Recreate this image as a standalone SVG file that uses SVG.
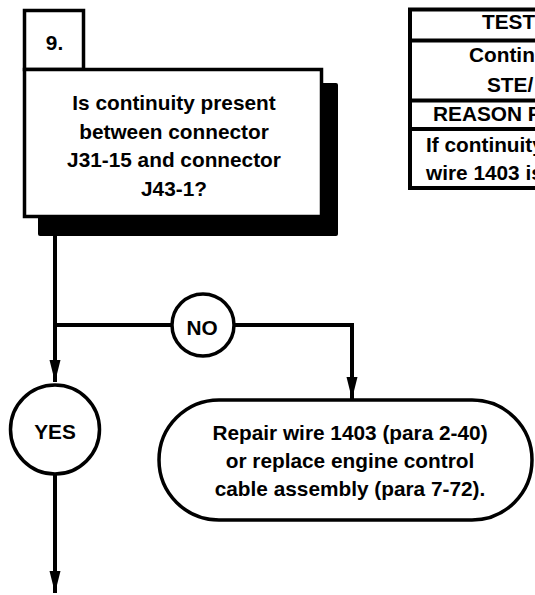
<svg xmlns="http://www.w3.org/2000/svg" width="535" height="595" viewBox="0 0 535 595">
<style>
text{font-family:"Liberation Sans",Arial,Helvetica,sans-serif;font-weight:bold;font-size:20.8px;fill:#000}
.c{text-anchor:middle}
.box{fill:#fff;stroke:#000;stroke-width:3.5}
.line{fill:none;stroke:#000;stroke-width:4}
.tl{stroke:#000;stroke-width:4}
</style>
<defs>
<marker id="arr" markerUnits="userSpaceOnUse" markerWidth="23" markerHeight="12" refX="22" refY="5.5" orient="auto">
<path d="M0,0 L22,5.5 L0,11 z" fill="#000"/>
</marker>
</defs>
<g id="connectors">
<path class="line" d="M55,236 V382" marker-end="url(#arr)"/>
<path class="line" d="M55,325 H172"/>
<path class="line" d="M234,325 H352 V399" marker-end="url(#arr)"/>
<path class="line" d="M55,474 V593" marker-end="url(#arr)"/>
</g>
<g id="step9">
<rect x="38" y="83" width="300" height="153" rx="2" fill="#000"/>
<rect class="box" x="24.5" y="10.5" width="59" height="59"/>
<rect class="box" x="24.5" y="69.5" width="297" height="147"/>
<text class="c" x="54.5" y="50">9.</text>
<text class="c" x="174" y="110">Is continuity present</text>
<text class="c" x="174" y="138.5">between connector</text>
<text class="c" x="174" y="167">J31-15 and connector</text>
<text class="c" x="174" y="195.5">J43-1?</text>
</g>
<g id="no">
<circle class="box" cx="203" cy="325" r="31"/>
<text class="c" x="202" y="335">NO</text>
</g>
<g id="yes">
<circle class="box" cx="55" cy="429.5" r="44.5"/>
<text class="c" x="55" y="439">YES</text>
</g>
<g id="repair">
<rect class="box" x="159" y="400" width="373" height="120" rx="60" stroke-width="4"/>
<text class="c" x="350" y="440">Repair wire 1403 (para 2-40)</text>
<text class="c" x="350" y="468">or replace engine control</text>
<text class="c" x="350" y="496">cable assembly (para 7-72).</text>
</g>
<g id="table">
<rect x="410" y="9.5" width="140" height="178.5" fill="#fff" stroke="#000" stroke-width="4"/>
<line class="tl" x1="410" y1="40.5" x2="540" y2="40.5"/>
<line class="tl" x1="410" y1="100.5" x2="540" y2="100.5"/>
<line class="tl" x1="410" y1="129" x2="540" y2="129"/>
<text x="482" y="29">TEST</text>
<text x="469" y="62">Contin</text>
<text x="487" y="92">STE/</text>
<text x="433" y="121">REASON F</text>
<text x="426" y="152">If continuity</text>
<text x="426" y="180">wire 1403 is</text>
</g>
</svg>
